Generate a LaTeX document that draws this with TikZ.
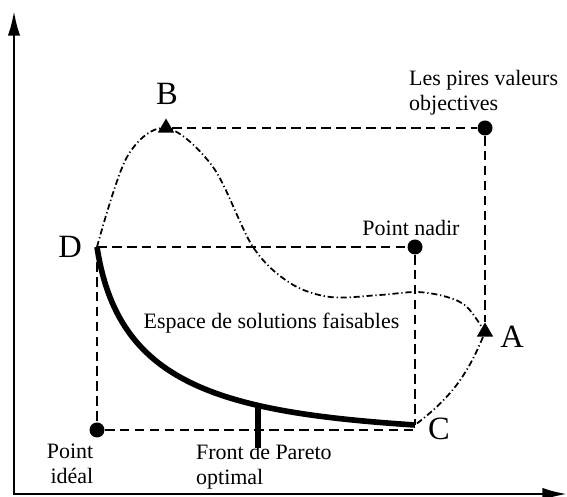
\documentclass[tikz,border=0pt]{standalone}
\usepackage{fontspec}
\setmainfont{Liberation Serif}
\usetikzlibrary{shapes.geometric,arrows.meta,positioning}

\tikzset{
  axis/.style={line width=1.4pt, {Latex[length=14pt,width=7pt]}-{Latex[length=14pt,width=7pt]}},
  dashline/.style={line width=1.1pt, dash pattern=on 5.5pt off 3pt},
  boundline/.style={line width=1pt, dash pattern=on 3.5pt off 1.6pt on 0.7pt off 1.6pt},
  frontline/.style={line width=3.2pt},
  dotpt/.style={circle, fill, inner sep=0pt, minimum size=0.3cm},
  tript/.style={regular polygon, regular polygon sides=3, fill, inner sep=0pt, minimum size=0.38cm},
  ptlabel/.style={font=\fontsize{18.5}{20}\selectfont},
  txtlabel/.style={font=\fontsize{12.5}{14.2}\selectfont, align=left},
}

\begin{document}
\begin{tikzpicture}
  \useasboundingbox (0,0) rectangle (11.34,9.94);

  % axes
  \coordinate (O) at (0.28,0.06);
  \coordinate (ytop) at (0.28,9.72);
  \coordinate (xend) at (11.34,0.06);
  \draw[axis] (ytop) -- (O) -- (xend);

  % characteristic points
  \node[tript] (B) at (3.32,7.38) {};
  \node[dotpt] (W) at (9.70,7.38) {};
  \coordinate (D) at (1.94,5.00);
  \node[dotpt] (N) at (8.30,5.00) {};
  \node[tript] (A) at (9.70,3.30) {};
  \coordinate (C) at (8.30,1.44);
  \node[dotpt] (I) at (1.94,1.34) {};

  % dashed guides
  \draw[dashline] (B) -- (W);
  \draw[dashline] (W) -- (A);
  \draw[dashline] (D) -- (N);
  \draw[dashline] (N) -- (C);
  \draw[dashline] (D) -- (I);
  \draw[dashline] (I) -- (I -| C);

  % boundary of the feasible space
  \draw[boundline] plot[smooth, tension=0.55] coordinates {(D) (2.54,6.80) (B.center) (4.26,6.60) (5.06,5.00) (5.80,4.28) (6.60,4.00) (7.60,4.04) (8.34,4.10) (8.94,4.00) (9.34,3.80) (A.center)};
  \draw[boundline] (A) to[bend left=15] (C);

  % Pareto front
  \draw[frontline] (D) .. controls (2.35,2.3) and (4.3,1.7) .. coordinate[pos=0.69] (F) (C);
  \coordinate (tickend) at (5.16,0.98);
  \draw[frontline] (F) -- (F |- tickend);

  % labels
  \node[ptlabel] (Blab) at (3.34,8.06) {B};
  \node[ptlabel] (Dlab) at (1.40,5.00) {D};
  \node[ptlabel] (Alab) at (10.24,3.20) {A};
  \node[ptlabel] (Clab) at (8.78,1.36) {C};
  \node[txtlabel, anchor=west] (Wlab) at (8.06,8.08) {Les pires valeurs\\objectives};
  \node[txtlabel] (Nlab) at (8.22,5.38) {Point nadir};
  \node[txtlabel] (Slab) at (5.43,3.48) {Espace de solutions faisables};
  \node[txtlabel, align=right] (Ilab) at (1.40,0.66) {Point\\idéal};
  \node[txtlabel, anchor=west] (Flab) at (3.80,0.60) {Front de Pareto\\optimal};
\end{tikzpicture}
\end{document}
